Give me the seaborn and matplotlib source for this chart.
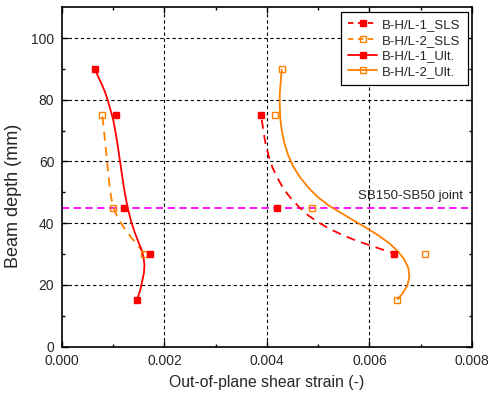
import matplotlib
matplotlib.use("Agg")
import matplotlib.pyplot as plt
from matplotlib.lines import Line2D
import seaborn as sns
import pandas as pd

# Measured strains at each beam depth (mm)
depth_sls = [75, 45, 30]
sls1_strain = [0.00389, 0.00420, 0.00648]
sls2_strain = [0.000786, 0.00099, 0.00160]

depth_ult = [90, 75, 45, 30, 15]
ult1_strain = [0.00064, 0.00105, 0.00121, 0.00171, 0.00146]
ult2_strain = [0.00429, 0.00416, 0.00488, 0.00709, 0.00653]

# Fitted strain profiles (strain, depth)
sls1_fit_x = [0.00390, 0.00393, 0.00397, 0.00403, 0.00411, 0.00421, 0.00433,
              0.00447, 0.00463, 0.00480, 0.00500, 0.00522, 0.00546, 0.00572,
              0.00598, 0.00623, 0.00646]
sls1_fit_y = [73.5, 70.0, 66.0, 62.0, 58.0, 54.5, 51.0, 48.0, 45.2, 42.6, 40.3,
              38.2, 36.3, 34.5, 33.0, 31.6, 30.3]

sls2_fit_x = [0.00079, 0.00082, 0.00085, 0.00088, 0.00091, 0.00094, 0.00098,
              0.00104, 0.00112, 0.00122, 0.00133, 0.00144, 0.00153, 0.00160]
sls2_fit_y = [74.6, 70.0, 65.0, 60.0, 55.0, 50.5, 46.5, 43.5, 40.8, 38.3, 35.8,
              33.6, 31.8, 30.3]

ult1_fit_x = [0.00066, 0.00072, 0.00078, 0.00084, 0.00090, 0.00095, 0.00100,
              0.00104, 0.00108, 0.00112, 0.00116, 0.00120, 0.00124, 0.00129,
              0.00135, 0.00142, 0.00149, 0.00155, 0.00159, 0.00161, 0.00160,
              0.00157, 0.00153, 0.00147]
ult1_fit_y = [89.2, 87.0, 84.9, 82.5, 79.5, 76.5, 73.5, 70.0, 66.0, 61.5, 57.0,
              52.5, 48.5, 44.5, 40.5, 37.0, 34.0, 31.5, 29.0, 26.5, 24.0, 21.5,
              18.5, 15.4]

ult2_fit_x = [0.00429, 0.00427, 0.00425, 0.00425, 0.00426, 0.00429, 0.00434,
              0.00441, 0.00451, 0.00464, 0.00480, 0.00499, 0.00521, 0.00545,
              0.00569, 0.00594, 0.00618, 0.00638, 0.00655, 0.00668, 0.00676,
              0.00678, 0.00674, 0.00665, 0.00655]
ult2_fit_y = [89.7, 86.0, 82.0, 78.0, 74.0, 70.0, 66.0, 62.2, 58.5, 55.0, 51.7,
              48.5, 45.7, 43.3, 40.9, 38.5, 36.0, 33.6, 31.0, 28.3, 25.5, 22.5,
              19.8, 17.3, 15.4]

series_labels = ["B-H/L-1_SLS", "B-H/L-2_SLS", "B-H/L-1_Ult.", "B-H/L-2_Ult."]
joint_depth = 45
joint_label = "SB150-SB50 joint"

RED = "#ff0000"
ORANGE = "#ff8000"
MAGENTA = "#ff00ff"

sns.set_style("ticks")
plt.rcParams["font.family"] = ["Liberation Sans", "DejaVu Sans"]

fig = plt.figure(figsize=(4.9, 3.98), dpi=100)
ax = fig.add_axes([0.1265, 0.129, 0.8365, 0.853])

# grid
for gx in [0.002, 0.004, 0.006]:
    ax.axvline(gx, color="black", lw=0.8, ls=(0, (3, 2.5)), zorder=0)
for gy in [20, 40, 60, 80, 100]:
    ax.axhline(gy, color="black", lw=0.8, ls=(0, (3, 2.5)), zorder=0)

# fitted profiles
fits = [
    (sls1_fit_x, sls1_fit_y, RED, (0, (5, 3.5))),
    (sls2_fit_x, sls2_fit_y, ORANGE, (0, (5, 3.5))),
    (ult1_fit_x, ult1_fit_y, RED, "-"),
    (ult2_fit_x, ult2_fit_y, ORANGE, "-"),
]
for fx, fy, col, ls in fits:
    df = pd.DataFrame({"strain": fx, "depth": fy})
    sns.lineplot(data=df, x="strain", y="depth", sort=False, estimator=None,
                 color=col, lw=1.3, linestyle=ls, ax=ax, zorder=3)

# measured points
pts = [
    (sls1_strain, depth_sls, RED, RED),
    (sls2_strain, depth_sls, ORANGE, "none"),
    (ult1_strain, depth_ult, RED, RED),
    (ult2_strain, depth_ult, ORANGE, "none"),
]
for px, py, col, face in pts:
    df = pd.DataFrame({"strain": px, "depth": py})
    ax.plot(df["strain"], df["depth"], ls="none", marker="s", ms=4.6,
            mec=col, mfc=face, mew=1.0, zorder=4)

# joint line
ax.axhline(joint_depth, color=MAGENTA, lw=1.3, ls=(0, (4, 2.5)), zorder=2)
ax.text(0.00783, joint_depth + 3.7, joint_label, ha="right", va="center",
        fontsize=9.5)

ax.set_xlim(0, 0.008)
ax.set_ylim(0, 110)
ax.set_xticks([0.000, 0.002, 0.004, 0.006, 0.008])
ax.set_xticklabels(["0.000", "0.002", "0.004", "0.006", "0.008"])
ax.set_xticks([0.001, 0.003, 0.005, 0.007], minor=True)
ax.set_yticks([0, 20, 40, 60, 80, 100])
ax.set_yticks([10, 30, 50, 70, 90], minor=True)
ax.tick_params(which="both", direction="in", top=True, right=True,
               labelsize=10, width=1.0, color="black")
ax.tick_params(which="major", length=4)
ax.tick_params(which="minor", length=2.5)
ax.tick_params(axis="x", which="major", pad=5.5)
ax.tick_params(axis="y", which="major", pad=5.5)
for s in ax.spines.values():
    s.set_linewidth(1.2)
    s.set_color("black")

ax.set_xlabel("Out-of-plane shear strain (-)", fontsize=11.3)
ax.set_ylabel("Beam depth (mm)", fontsize=13)
ax.xaxis.set_label_coords(0.4994, -0.083)
ax.yaxis.set_label_coords(-0.097, 0.444)

handles = [
    Line2D([], [], color=RED, ls=(0, (3, 2.5)), lw=1.3, marker="s", ms=4.6,
           mfc=RED, mec=RED),
    Line2D([], [], color=ORANGE, ls=(0, (3, 2.5)), lw=1.3, marker="s", ms=4.6,
           mfc="none", mec=ORANGE),
    Line2D([], [], color=RED, ls="-", lw=1.3, marker="s", ms=4.6,
           mfc=RED, mec=RED),
    Line2D([], [], color=ORANGE, ls="-", lw=1.3, marker="s", ms=4.6,
           mfc="none", mec=ORANGE),
]
leg = ax.legend(handles, series_labels, loc="upper right", fontsize=9.5,
                frameon=True, fancybox=False, edgecolor="black",
                framealpha=1, handlelength=2.2, borderpad=0.55,
                labelspacing=0.25, handletextpad=0.35, borderaxespad=0,
                bbox_to_anchor=(0.9898, 0.987))
leg.get_frame().set_linewidth(0.9)

fig.savefig("out.png", dpi=100)
